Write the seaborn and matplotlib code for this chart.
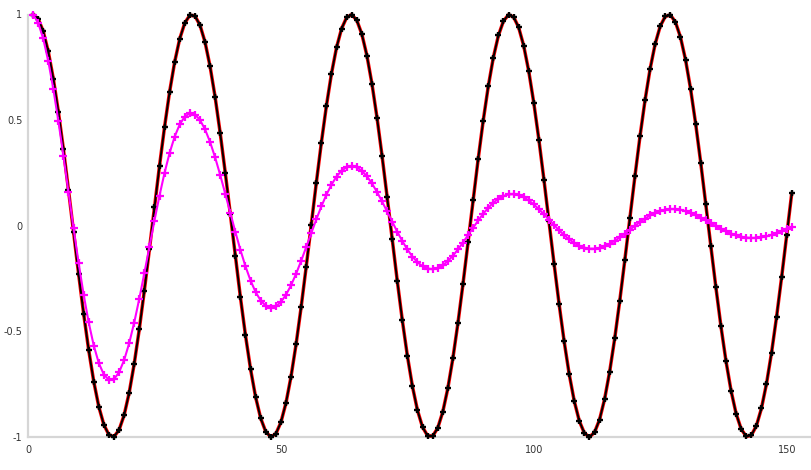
import matplotlib
matplotlib.use("Agg")
import matplotlib.pyplot as plt
import seaborn as sns
import pandas as pd

# sample index (x axis)
steps = list(range(1, 152))

# undamped oscillation (black markers over red line)
undamped = [
    1.0000, 0.9801, 0.9211, 0.8253, 0.6967, 0.5403, 0.3624, 0.1700, -0.0292, -0.2272,
    -0.4161, -0.5885, -0.7374, -0.8569, -0.9422, -0.9900, -0.9983, -0.9668, -0.8968, -0.7910,
    -0.6536, -0.4903, -0.3073, -0.1122, 0.0875, 0.2837, 0.4685, 0.6347, 0.7756, 0.8855,
    0.9602, 0.9965,
    0.9932, 0.9502, 0.8694, 0.7539, 0.6084, 0.4385, 0.2513, 0.0540, -0.1455, -0.3392,
    -0.5193, -0.6787, -0.8111, -0.9111, -0.9748, -0.9997, -0.9847, -0.9304, -0.8391, -0.7143,
    -0.5610, -0.3853, -0.1943, 0.0044, 0.2030, 0.3935, 0.5683, 0.7204, 0.8439, 0.9336,
    0.9862,
    0.9994, 0.9728, 0.9074, 0.8059, 0.6722, 0.5117, 0.3308, 0.1367, -0.0628, -0.2598,
    -0.4465, -0.6154, -0.7597, -0.8737, -0.9530, -0.9942, -0.9958, -0.9577, -0.8814, -0.7699,
    -0.6278, -0.4607, -0.2752, -0.0787, 0.1209, 0.3157, 0.4979, 0.6603, 0.7963, 0.9006,
    0.9690, 0.9988,
    0.9887, 0.9392, 0.8523, 0.7314, 0.5813, 0.4081, 0.2186, 0.0204, -0.1787, -0.3706,
    -0.5477, -0.7030, -0.8303, -0.9245, -0.9818, -1.0000, -0.9783, -0.9176, -0.8203, -0.6903,
    -0.5328, -0.3541, -0.1612, 0.0380, 0.2358, 0.4242, 0.5956, 0.7433, 0.8614, 0.9451,
    0.9912,
    0.9977, 0.9645, 0.8928, 0.7855, 0.6469, 0.4825, 0.2989, 0.1034, -0.0963, -0.2921,
    -0.4763, -0.6415, -0.7811, -0.8896, -0.9626, -0.9972, -0.9921, -0.9474, -0.8650, -0.7481,
    -0.6013, -0.4306, -0.2427, -0.0451, 0.1543,
]

# damped oscillation (magenta)
damped = [
    1.0000, 0.9611, 0.8864, 0.7804, 0.6484, 0.4965, 0.3313, 0.1597, -0.0113, -0.1751,
    -0.3258, -0.4579, -0.5671, -0.6501, -0.7048, -0.7299, -0.7259, -0.6939, -0.6364, -0.5564,
    -0.4581, -0.3459, -0.2247, -0.0996, 0.0245, 0.1428, 0.2509, 0.3450, 0.4221, 0.4799,
    0.5168, 0.5323, 0.5266, 0.5007, 0.4564, 0.3963, 0.3231, 0.2404, 0.1515, 0.0603,
    -0.0296, -0.1149, -0.1924, -0.2595, -0.3138, -0.3539, -0.3787, -0.3879, -0.3817, -0.3610,
    -0.3271, -0.2819, -0.2276, -0.1666, -0.1015, -0.0351, 0.0301, 0.0916, 0.1471, 0.1947,
    0.2330, 0.2607, 0.2773, 0.2824, 0.2765, 0.2601, 0.2342, 0.2003, 0.1600, 0.1151,
    0.0675, 0.0191, -0.0281, -0.0724, -0.1121, -0.1459, -0.1728, -0.1919, -0.2029, -0.2055,
    -0.2001, -0.1872, -0.1676, -0.1422, -0.1123, -0.0793, -0.0444, -0.0093, 0.0249, 0.0568,
    0.0852, 0.1092, 0.1280, 0.1411, 0.1483, 0.1495, 0.1448, 0.1347, 0.1198, 0.1008,
    0.0787, 0.0544, 0.0289, 0.0034, -0.0213, -0.0442, -0.0645, -0.0815, -0.0947, -0.1037,
    -0.1083, -0.1086, -0.1046, -0.0968, -0.0855, -0.0714, -0.0550, -0.0372, -0.0186, 0.0000,
    0.0179, 0.0343, 0.0488, 0.0608, 0.0700, 0.0761, 0.0791, 0.0789, 0.0756, 0.0695,
    0.0610, 0.0504, 0.0384, 0.0253, 0.0117, -0.0018, -0.0147, -0.0265, -0.0368, -0.0453,
    -0.0517, -0.0559, -0.0577, -0.0572, -0.0546, -0.0499, -0.0435, -0.0356, -0.0267, -0.0171,
    -0.0072,
]

x_ticks = [0, 50, 100, 150]
x_tick_labels = ["0", "50", "100", "150"]
y_ticks = [-1, -0.5, 0, 0.5, 1]
y_tick_labels = ["-1", "-0.5", "0", "0.5", "1"]

df = pd.DataFrame({"step": steps, "undamped": undamped, "damped": damped})

sns.set_style("white")
plt.rcParams["font.family"] = ["DejaVu Sans"]

W, H = 812, 470
fig = plt.figure(figsize=(W / 100, H / 100), dpi=100)
ax = fig.add_axes([28 / W, 33 / H, 784 / W, 422.5 / H])

sns.lineplot(data=df, x="step", y="undamped", ax=ax, color="#ff0000",
             linewidth=2.5, clip_on=False, zorder=2)
sns.lineplot(data=df, x="step", y="undamped", ax=ax, color="#000000",
             linewidth=1.4, marker="+", markersize=5, markeredgewidth=1.7,
             markeredgecolor="#000000", clip_on=False, zorder=3)
sns.lineplot(data=df, x="step", y="damped", ax=ax, color="#ff00ff",
             linewidth=1.5, marker="+", markersize=5.5, markeredgewidth=1.6,
             markeredgecolor="#ff00ff", clip_on=False, zorder=4)

ax.set_xlim(0, 155)
ax.set_ylim(-1, 1)
ax.set_xticks(x_ticks)
ax.set_xticklabels(x_tick_labels)
ax.set_yticks(y_ticks)
ax.set_yticklabels(y_tick_labels)
ax.set_xlabel("")
ax.set_ylabel("")

for side in ["top", "right"]:
    ax.spines[side].set_visible(False)
for side in ["left", "bottom"]:
    ax.spines[side].set_color("#d6d6d6")
    ax.spines[side].set_linewidth(1.6)
    ax.spines[side].set_zorder(1)

ax.tick_params(axis="both", direction="in", length=7, width=0.8,
               color="#b0b0b0", labelsize=7, labelcolor="#333333")
ax.tick_params(axis="x", pad=6)
ax.tick_params(axis="y", pad=4)
ax.grid(False)
ax.set_facecolor("white")
fig.patch.set_facecolor("white")

fig.savefig("out.png", dpi=100)
